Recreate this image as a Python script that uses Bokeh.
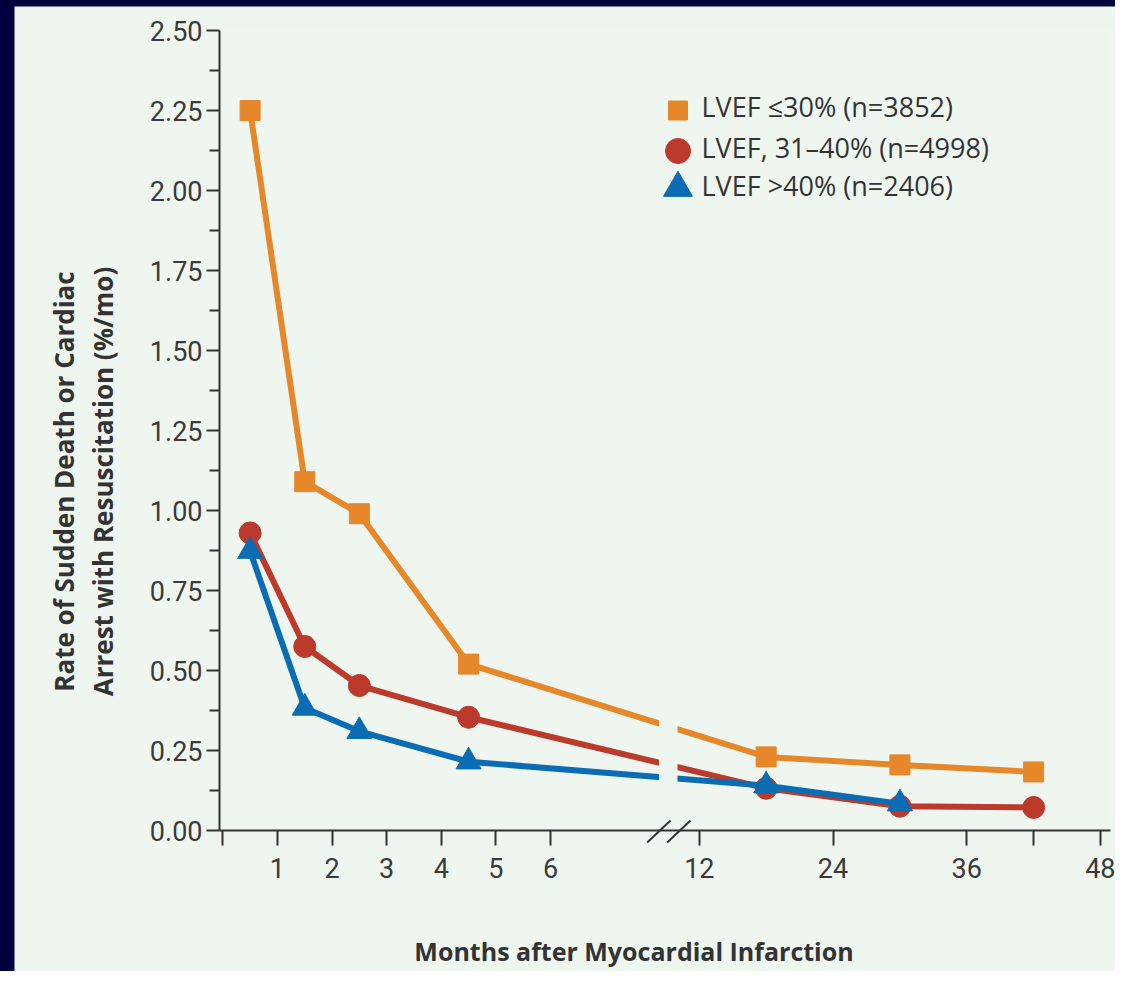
import math
from bokeh.plotting import figure
from bokeh.models import FixedTicker
from bokeh.core.properties import value
from bokeh.embed import file_html
from bokeh.resources import INLINE

# ---------------- data ----------------
MONTHS = [0.5, 1.5, 2.5, 4.5, 18, 30, 42]
MONTHS_GT40 = [0.5, 1.5, 2.5, 4.5, 18, 30]
LVEF_LE30 = [2.25, 1.09, 0.99, 0.52, 0.23, 0.205, 0.183]
LVEF_31_40 = [0.93, 0.575, 0.453, 0.354, 0.132, 0.076, 0.072]
LVEF_GT40 = [0.873, 0.383, 0.31, 0.215, 0.14, 0.084]
SERIES_LABELS = ["LVEF \u226430% (n=3852)", "LVEF, 31\u201340% (n=4998)", "LVEF >40% (n=2406)"]

Y_TICKS = [0.0, 0.25, 0.5, 0.75, 1.0, 1.25, 1.5, 1.75, 2.0, 2.25, 2.5]
Y_TICK_LABELS = ["0.00", "0.25", "0.50", "0.75", "1.00", "1.25", "1.50", "1.75", "2.00", "2.25", "2.50"]
Y_MINOR_TICKS = [0.125, 0.375, 0.625, 0.875, 1.125, 1.375, 1.625, 1.875, 2.125, 2.375]
X_TICK_MONTHS = [0, 1, 2, 3, 4, 5, 6, 12, 24, 36, 42, 48]
X_TICK_LABELS = ["", "1", "2", "3", "4", "5", "6", "12", "24", "36", "", "48"]
X_LABEL = "Months after Myocardial Infarction"
Y_LABEL_LINES = ["Rate of Sudden Death or Cardiac", "Arrest with Resuscitation (%/mo)"]

# ---------------- layout / style (pixel geometry of the picture) ----------------
W, H = 1115, 971
REF_LEFT, REF_RIGHT, REF_TOP, REF_BOTTOM = 219, 1110, 30, 830  # frame edges
REF_U0 = 222.3       # px of month 0
PX_PER_U = 54.62     # px per month in early segment
PX_PER_Y = 320.0
U12 = 8.724          # axis position of month 12 (after break)
SLOPE_LATE = 0.20403 # axis units per month after the break

BG = "#EFF6F0"
NAVY = "#00003C"
AXIS = "#333333"
TEXT = "#333333"
ORANGE = "#E6872A"
RED = "#BC3A2B"
BLUE = "#0A6DB3"
TICK_FONT = "Roboto"
LABEL_FONT = "Open Sans"


def month_to_u(m):
    return m if m <= 6 else U12 + SLOPE_LATE * (m - 12)


def px_to_u(px):
    return (px - REF_U0) / PX_PER_U


def px_to_y(py):
    return (REF_BOTTOM - py) / PX_PER_Y


p = figure(width=W, height=H, output_backend="svg", toolbar_location=None,
           x_range=(px_to_u(REF_LEFT), px_to_u(REF_RIGHT)), y_range=(0, 2.5),
           min_border_left=REF_LEFT, min_border_right=W - REF_RIGHT,
           min_border_top=REF_TOP, min_border_bottom=H - REF_BOTTOM,
           background_fill_color=BG, border_fill_color=BG, outline_line_color=None)
p.grid.visible = False

xa = p.xaxis[0]
ya = p.yaxis[0]
x_tick_pos = [month_to_u(m) for m in X_TICK_MONTHS]
xa.ticker = FixedTicker(ticks=x_tick_pos, minor_ticks=[])
xa.major_label_overrides = {u: lab for u, lab in zip(x_tick_pos, X_TICK_LABELS)}
ya.ticker = FixedTicker(ticks=Y_TICKS, minor_ticks=Y_MINOR_TICKS)
ya.major_label_overrides = {t: lab for t, lab in zip(Y_TICKS, Y_TICK_LABELS)}

for ax in (xa, ya):
    ax.axis_line_color = AXIS
    ax.axis_line_width = 2
    ax.major_tick_line_color = AXIS
    ax.major_tick_line_width = 2
    ax.major_tick_in = 0
    ax.minor_tick_in = 0
    ax.major_label_text_font = TICK_FONT
    ax.major_label_text_font_size = "27px"
    ax.major_label_text_color = "#3a3a3a"
xa.major_tick_out = 15
xa.minor_tick_line_color = None
xa.major_label_standoff = 12
ya.major_tick_out = 13
ya.minor_tick_out = 10
ya.minor_tick_line_color = AXIS
ya.minor_tick_line_width = 2
ya.major_label_standoff = 4

# ---------------- series ----------------
u_all = [month_to_u(m) for m in MONTHS]
u_gt40 = [month_to_u(m) for m in MONTHS_GT40]

p.line(u_all, LVEF_LE30, line_color=ORANGE, line_width=6, line_join="round")
p.scatter(u_all, LVEF_LE30, marker="square", size=20, fill_color=ORANGE, line_color=ORANGE)
p.line(u_all, LVEF_31_40, line_color=RED, line_width=6, line_join="round")
p.scatter(u_all, LVEF_31_40, marker="circle", size=22, fill_color=RED, line_color=RED)
p.line(u_gt40, LVEF_GT40, line_color=BLUE, line_width=6, line_join="round")
p.scatter(u_gt40, LVEF_GT40, marker="triangle", size=25, fill_color=BLUE, line_color=BLUE)

# gap in the curves at the axis break
p.quad(left=[px_to_u(658.5)], right=[px_to_u(677)], bottom=[0.1], top=[0.5],
       fill_color=BG, line_color=None)
# break marks on the x axis
p.segment(x0=[px_to_u(646.7), px_to_u(666.7)], y0=[px_to_y(842)] * 2,
          x1=[px_to_u(670), px_to_u(690)], y1=[px_to_y(820)] * 2,
          line_color=AXIS, line_width=2, level="overlay")
# navy frame strips (left and top)
p.quad(left=[px_to_u(-20)], right=[px_to_u(14)], bottom=[px_to_y(1000)], top=[px_to_y(-20)],
       fill_color=NAVY, line_color=None, level="overlay")
p.quad(left=[px_to_u(-20)], right=[px_to_u(1200)], bottom=[px_to_y(6)], top=[px_to_y(-20)],
       fill_color=NAVY, line_color=None, level="overlay")

# ---------------- legend (markers + text) ----------------
LEG_MARK_X = 677.5
LEG_MARK_Y = [110, 150.5, 187.5]
LEG_TEXT_X = 701
LEG_TEXT_BASE = [106, 146.5, 184.5]
for (marker, size, color), my in zip([("square", 19, ORANGE), ("circle", 25, RED), ("triangle", 29, BLUE)],
                                     LEG_MARK_Y):
    p.scatter([px_to_u(LEG_MARK_X)], [px_to_y(my)], marker=marker, size=size,
              fill_color=color, line_color=color)
p.text(x=[px_to_u(LEG_TEXT_X)] * 3, y=[px_to_y(b) for b in LEG_TEXT_BASE], text=SERIES_LABELS,
       text_font=value(LABEL_FONT), text_font_size="27px", text_color=TEXT,
       text_baseline="alphabetic", text_align="left")

# ---------------- axis titles ----------------
p.text(x=[px_to_u(63), px_to_u(102)], y=[px_to_y(481)] * 2, text=Y_LABEL_LINES,
       angle=math.pi / 2, text_align="center", text_baseline="middle",
       text_font=value(LABEL_FONT), text_font_style="bold", text_font_size="26px",
       text_color=TEXT, level="overlay")
p.text(x=[px_to_u(633.5)], y=[px_to_y(950)], text=[X_LABEL],
       text_align="center", text_baseline="middle",
       text_font=value(LABEL_FONT), text_font_style="bold", text_font_size="25px",
       text_color=TEXT, level="overlay")

open("out.html", "w").write(file_html(p, INLINE))
